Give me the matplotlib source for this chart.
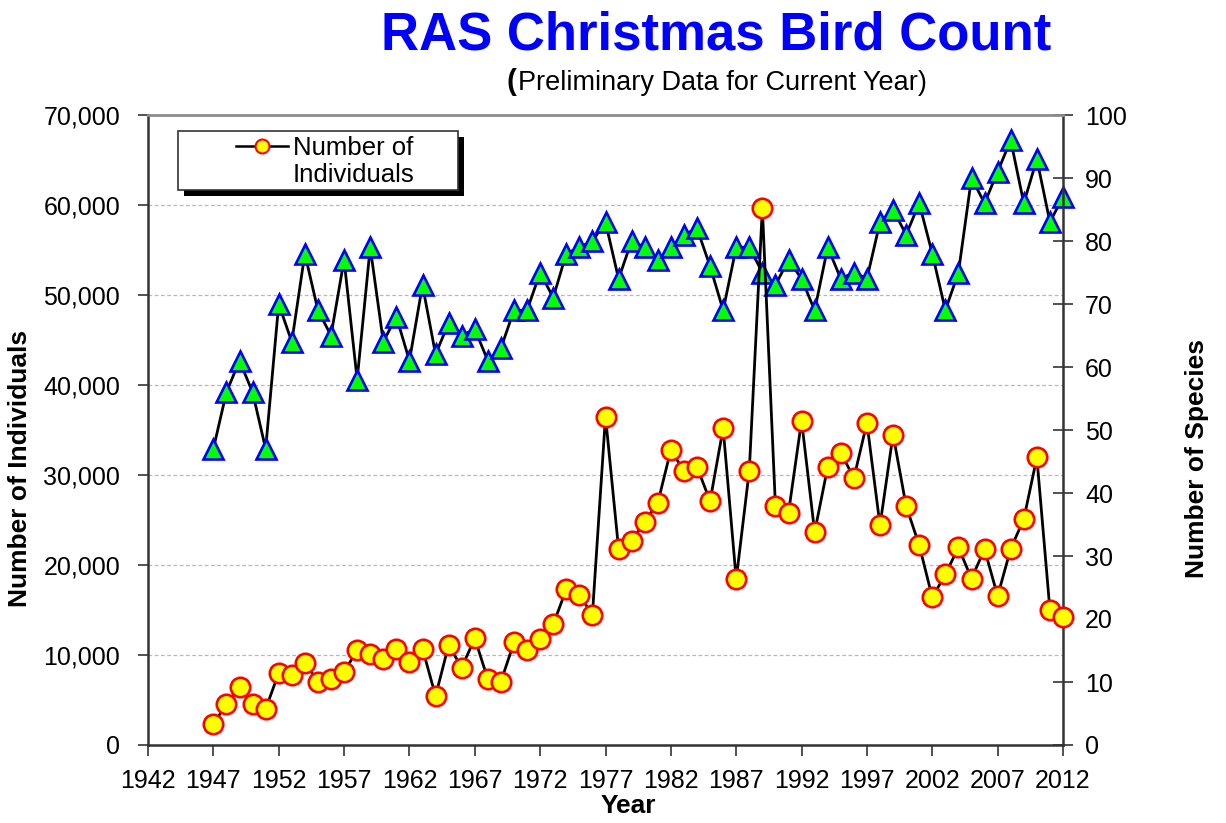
import numpy as np
import matplotlib
matplotlib.use("Agg")
from matplotlib import pyplot as plt
from matplotlib.patches import Rectangle
from matplotlib.lines import Line2D
from matplotlib.ticker import FuncFormatter

plt.rcParams['font.family'] = ['Liberation Sans', 'DejaVu Sans']

# data
years = [1947, 1948, 1949, 1950, 1951, 1952, 1953, 1954, 1955, 1956,
         1957, 1958, 1959, 1960, 1961, 1962, 1963, 1964, 1965, 1966,
         1967, 1968, 1969, 1970, 1971, 1972, 1973, 1974, 1975, 1976,
         1977, 1978, 1979, 1980, 1981, 1982, 1983, 1984, 1985, 1986,
         1987, 1988, 1989, 1990, 1991, 1992, 1993, 1994, 1995, 1996,
         1997, 1998, 1999, 2000, 2001, 2002, 2003, 2004, 2005, 2006,
         2007, 2008, 2009, 2010, 2011, 2012]

individuals = [2300, 4550, 6450, 4550, 4000, 8000, 7750, 9150, 7050, 7300,
               8100, 10550, 10150, 9550, 10700, 9200, 10700, 5450, 11100, 8600,
               11850, 7300, 7050, 11400, 10550, 11750, 13400, 17300, 16650, 14500,
               36500, 21800, 22650, 24800, 26900, 32800, 30450, 30900, 27100, 35200,
               18400, 30500, 59650, 26550, 25800, 36050, 23650, 30900, 32500, 29650,
               35800, 24400, 34500, 26550, 22200, 16400, 18950, 21950, 18500, 21750,
               16550, 21800, 25100, 31950, 15000, 14250]

species = [47, 56, 61, 56, 47, 70, 64, 78, 69, 65,
           77, 58, 79, 64, 68, 61, 73, 62, 67, 65,
           66, 61, 63, 69, 69, 75, 71, 78, 79, 80,
           83, 74, 80, 79, 77, 79, 81, 82, 76, 69,
           79, 79, 75, 73, 77, 74, 69, 79, 74, 75,
           74, 83, 85, 81, 86, 78, 69, 75, 90, 86,
           91, 96, 86, 93, 83, 87]

x_ticks = [1942, 1947, 1952, 1957, 1962, 1967, 1972, 1977, 1982, 1987,
           1992, 1997, 2002, 2007, 2012]
ind_ticks = [0, 10000, 20000, 30000, 40000, 50000, 60000, 70000]
sp_ticks = [0, 10, 20, 30, 40, 50, 60, 70, 80, 90, 100]

W, H = 1226, 823


def fx(px):
    return px / W


def fy(py):
    return 1 - py / H


fig = plt.figure(figsize=(W / 100, H / 100), dpi=100)
rect = [fx(148), fy(745), (1063 - 148) / W, (745 - 115) / H]

# species axis drawn first (behind), individuals on top
ax = fig.add_axes(rect)
ax2 = ax.twinx()
ax.yaxis.tick_right()
ax2.yaxis.tick_left()

# horizontal grid at the individuals ticks (species scale = 100 / 70000)
for v in ind_ticks[1:-1]:
    ax.axhline(v * 100 / 70000, color='#b8b8b8', lw=0.9, ls=(0, (3, 2)), zorder=0)

ax.plot(years, species, color='black', lw=2, marker='^', ms=14,
        mfc='#00ff00', mec='#0000ff', mew=1.9, clip_on=False, zorder=2)
ax2.plot(years, individuals, color='black', lw=2, marker='o', ms=14,
         mfc='#ffff00', mec='#ff0000', mew=1.9, clip_on=False, zorder=3)

ax.set_xlim(1942, 2012)
ax.set_ylim(0, 100)
ax2.set_ylim(0, 70000)
ax.set_xticks(x_ticks)
ax.set_yticks(sp_ticks)
ax2.set_yticks(ind_ticks)
ax2.yaxis.set_major_formatter(FuncFormatter(lambda v, p: f"{int(v):,}"))

# spines
for s in ['top', 'left']:
    ax.spines[s].set_visible(False)
for s in ['bottom', 'right']:
    ax2.spines[s].set_visible(False)
ax.spines['bottom'].set_color('#333333')
ax.spines['bottom'].set_linewidth(1.8)
ax.spines['right'].set_color('#333333')
ax.spines['right'].set_linewidth(1.8)
ax2.spines['left'].set_color('#333333')
ax2.spines['left'].set_linewidth(1.8)
ax2.spines['top'].set_color('#8c8c8c')
ax2.spines['top'].set_linewidth(2)

ax.tick_params(axis='x', direction='out', length=8, width=1.2, color='#333333',
               labelsize=18, pad=9)
ax.tick_params(axis='y', direction='inout', length=14, width=1.2, color='#333333',
               labelsize=18, pad=9)
ax2.tick_params(axis='y', direction='out', length=7, width=1.2, color='#333333',
                labelsize=18, pad=13)

fig.text(fx(20), fy(468), 'Number of Individuals', rotation=90, ha='center',
         va='center', fontsize=19, fontweight='bold')
fig.text(fx(1197), fy(459), 'Number of Species', rotation=90, ha='center',
         va='center', fontsize=19, fontweight='bold')
fig.text(fx(628), fy(806), 'Year', ha='center', va='center', fontsize=19,
         fontweight='bold')

# titles
fig.text(fx(716), fy(49), 'RAS Christmas Bird Count', ha='center', va='baseline',
         fontsize=38, fontweight='bold', color='#0000ff')
fig.text(fx(516), fy(90), '(', ha='right', va='baseline', fontsize=21,
         fontweight='bold')
fig.text(fx(518), fy(90), 'Preliminary Data for Current Year)', ha='left',
         va='baseline', fontsize=19.5)

# legend box with hard shadow
shadow = Rectangle((fx(184), fy(196)), (458 - 178) / W, (190 - 131) / H,
                   transform=fig.transFigure, facecolor='black', edgecolor='none',
                   zorder=10)
box = Rectangle((fx(178), fy(190)), (458 - 178) / W, (190 - 131) / H,
                transform=fig.transFigure, facecolor='white', edgecolor='#333333',
                lw=1.2, zorder=11)
fig.add_artist(shadow)
fig.add_artist(box)
fig.add_artist(Line2D([fx(236), fx(288)], [fy(146), fy(146)], color='black', lw=1.8,
                      transform=fig.transFigure, zorder=12))
fig.add_artist(Line2D([fx(262)], [fy(146)], marker='o', ms=10, mfc='#ffff00',
                      mec='#ff0000', mew=1.5, transform=fig.transFigure, zorder=13))
fig.text(fx(293), fy(155), 'Number of', ha='left', va='baseline',
         fontsize=18.5, zorder=13)
fig.text(fx(293), fy(182), 'Individuals', ha='left', va='baseline',
         fontsize=18.5, zorder=13)

fig.savefig('out.png', dpi=100)
